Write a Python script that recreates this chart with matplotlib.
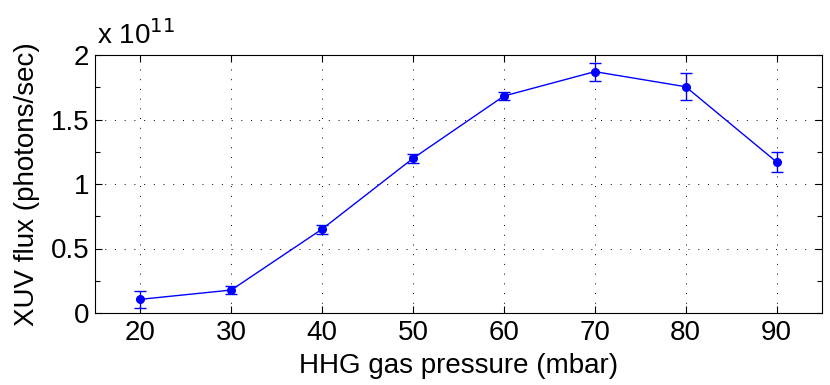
import matplotlib
matplotlib.use('Agg')
import matplotlib.pyplot as plt
from matplotlib.ticker import MultipleLocator

plt.rcParams['font.family'] = ['Liberation Sans', 'DejaVu Sans']

# gas pressure (mbar) and flux in units of 1e11 photons/sec
pressure = [20, 30, 40, 50, 60, 70, 80, 90]
flux = [0.106, 0.178, 0.651, 1.199, 1.682, 1.871, 1.754, 1.171]
flux_err = [0.068, 0.033, 0.035, 0.034, 0.028, 0.07, 0.105, 0.078]

xticks = [20, 30, 40, 50, 60, 70, 80, 90]
yticks = [0, 0.5, 1, 1.5, 2]
yticklabels = ['0', '0.5', '1', '1.5', '2']

fig = plt.figure(figsize=(8.3, 3.85), dpi=100)
ax = fig.add_axes([95 / 830, 1 - 313 / 385, 727 / 830, 258 / 385])

ax.errorbar(pressure, flux, yerr=flux_err, color='blue', marker='o',
            markersize=5.5, linewidth=1, capsize=4.5, elinewidth=1,
            capthick=1)

ax.set_xlim(15, 95)
ax.set_ylim(0, 2)
ax.set_xticks(xticks)
ax.set_yticks(yticks)
ax.set_yticklabels(yticklabels)
ax.yaxis.set_minor_locator(MultipleLocator(0.25))
ax.tick_params(which='both', direction='in', top=True, right=True,
               labelsize=20, length=5, width=0.8)
ax.tick_params(axis='x', pad=5)
ax.tick_params(axis='y', pad=4)
ax.tick_params(which='minor', length=3.5)
ax.grid(True, which='major', color='black', linestyle=(0, (1, 9)),
        linewidth=0.7)

for s in ax.spines.values():
    s.set_linewidth(0.8)

ax.set_xlabel('HHG gas pressure (mbar)', fontsize=20, labelpad=5)
ax.set_ylabel('XUV flux (photons/sec)', fontsize=20, labelpad=8)
ax.text(0.003, 1.02, r'x 10$^{11}$', transform=ax.transAxes, fontsize=20,
        ha='left', va='bottom')

fig.savefig('out.png', dpi=100)
